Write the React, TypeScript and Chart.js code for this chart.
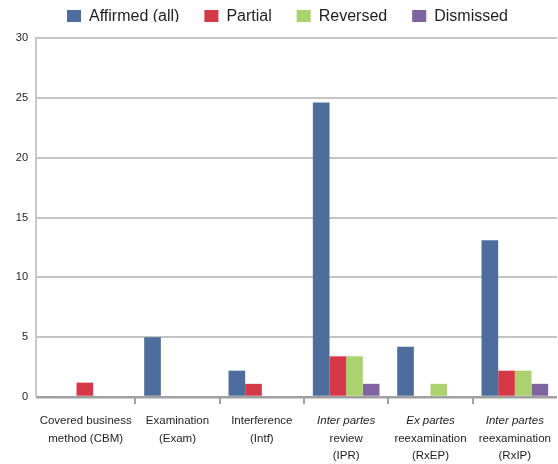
import React, { useEffect, useRef } from 'react';
import { Chart, registerables } from 'chart.js';

Chart.register(...registerables);

// ---- data ----
const categories = [
  'Covered business method (CBM)',
  'Examination (Exam)',
  'Interference (Intf)',
  'Inter partes review (IPR)',
  'Ex partes reexamination (RxEP)',
  'Inter partes reexamination (RxIP)',
];
const categoryLines = [
  ['Covered business', 'method (CBM)'],
  ['Examination', '(Exam)'],
  ['Interference', '(Intf)'],
  ['Inter partes', 'review', '(IPR)'],
  ['Ex partes', 'reexamination', '(RxEP)'],
  ['Inter partes', 'reexamination', '(RxIP)'],
];
const italicFirstLine = [false, false, false, true, true, true];

const seriesNames = ['Affirmed (all)', 'Partial', 'Reversed', 'Dismissed'];
const affirmed = [0, 5, 2.2, 24.6, 4.2, 13.1];
const partial = [1.2, 0, 1.1, 3.4, 0, 2.2];
const reversed = [0, 0, 0, 3.4, 1.1, 2.2];
const dismissed = [0, 0, 0, 1.1, 0, 1.1];
const yTicks = [0, 5, 10, 15, 20, 25, 30];

const colors = ['#4d6e9c', '#d73848', '#abd26e', '#8064a2'];

const FONT = "'Liberation Sans', Arial, sans-serif";
const AXIS_OFFSET = 15;

const decorPlugin = {
  id: 'decor',
  beforeInit(chart: any) {
    const lg = chart.legend;
    if (lg) {
      const fit = lg.fit;
      lg.fit = function () {
        fit.call(this);
        this.height = 38;
      };
    }
  },
  afterLayout(chart: any) {
    const lg = chart.legend;
    if (lg) {
      lg.top = 9 - 25;
      lg.bottom = lg.top + 38;
      const dx = 9;
      lg.left += dx;
      lg.right += dx;
    }
  },
  beforeDatasetsDraw(chart: any) {
    const { ctx, chartArea } = chart;
    ctx.save();
    ctx.strokeStyle = '#c8c8c8';
    ctx.lineWidth = 2;
    ctx.beginPath();
    const x = chartArea.left - AXIS_OFFSET;
    ctx.moveTo(x, chartArea.top - 1);
    ctx.lineTo(x, chartArea.bottom);
    ctx.stroke();
    ctx.restore();
  },
  afterDraw(chart: any) {
    const { ctx, chartArea } = chart;
    const xs = chart.scales.x;
    ctx.save();
    ctx.fillStyle = '#1e1e1e';
    ctx.textAlign = 'center';
    ctx.textBaseline = 'alphabetic';
    categoryLines.forEach((lines, i) => {
      let x = xs.getPixelForTick(i);
      if (i === 0) {
        // first label is centred between the drawn axis line and the first tick mark
        const boundary = (xs.getPixelForTick(0) + xs.getPixelForTick(1)) / 2;
        x = (chartArea.left - AXIS_OFFSET + boundary) / 2;
      }
      lines.forEach((line, j) => {
        const italic = j === 0 && italicFirstLine[i];
        ctx.font = `${italic ? 'italic ' : ''}11.5px ${FONT}`;
        ctx.fillText(line, x, 424 + j * 17.5);
      });
    });
    ctx.restore();
  },
};

export default function App() {
  const ref = useRef<HTMLCanvasElement | null>(null);

  useEffect(() => {
    if (!ref.current) return;
    const data = [affirmed, partial, reversed, dismissed];
    const chart = new Chart(ref.current, {
      type: 'bar',
      data: {
        labels: categories,
        datasets: seriesNames.map((name, k) => ({
          label: name,
          data: data[k],
          backgroundColor: colors[k],
          borderWidth: 0,
          categoryPercentage: 0.79,
          barPercentage: 1,
        })),
      },
      options: {
        responsive: false,
        animation: false,
        layout: { padding: { left: 0, right: 1, top: 0, bottom: 0 } },
        plugins: {
          legend: {
            position: 'top',
            labels: {
              font: { family: FONT, size: 16 },
              color: '#1e1e1e',
              boxWidth: 14,
              boxHeight: 14,
              padding: 25,
            },
          },
          tooltip: { enabled: false },
        },
        scales: {
          x: {
            grid: {
              offset: true,
              drawOnChartArea: false,
              drawTicks: true,
              tickLength: 7,
              lineWidth: 2,
              color: (c: any) =>
                c.index === undefined || c.index === 0 ? 'rgba(0,0,0,0)' : '#a0a0a0',
            },
            border: { display: false },
            ticks: { display: false },
            afterFit: (s: any) => {
              s.height = 67;
            },
          },
          y: {
            min: 0,
            max: 30,
            afterBuildTicks: (s: any) => {
              s.ticks = yTicks.map((v) => ({ value: v }));
            },
            grid: {
              drawTicks: true,
              tickLength: AXIS_OFFSET,
              lineWidth: (c: any) => (c.tick && c.tick.value === 0 ? 2.5 : 2),
              color: (c: any) => (c.tick && c.tick.value === 0 ? '#a0a0a0' : '#c4c4c4'),
            },
            border: { display: false },
            ticks: {
              font: { family: FONT, size: 11 },
              color: '#1e1e1e',
              padding: 8,
            },
            afterFit: (s: any) => {
              s.width = 51;
            },
          },
        },
      },
      plugins: [decorPlugin],
    });
    return () => chart.destroy();
  }, []);

  return (
    <div style={{ position: 'fixed', left: 0, top: 0, width: 558, height: 464, background: '#fff' }}>
      <canvas ref={ref} width={558} height={464} style={{ width: 558, height: 464 }} />
    </div>
  );
}
